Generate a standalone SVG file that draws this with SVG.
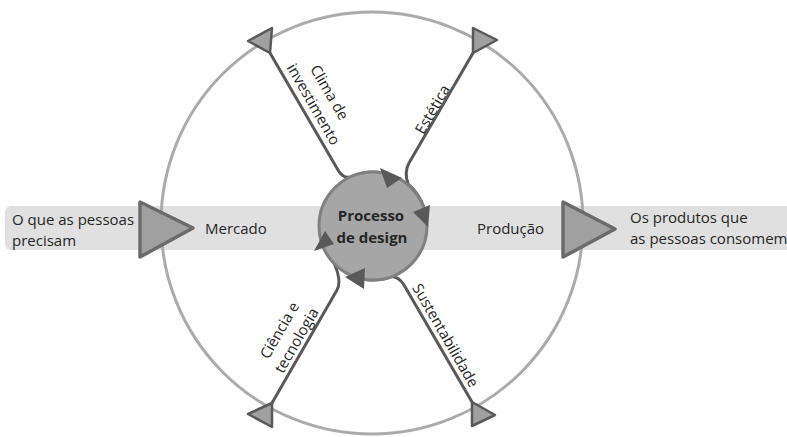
<svg xmlns="http://www.w3.org/2000/svg" width="787" height="437" viewBox="0 0 787 437">
  <defs>
    <style>
      .band { fill: #e0e0e0; }
      .ring { fill: none; stroke: #ababab; stroke-width: 3; }
      .flow { fill: #a0a0a0; stroke: #6b6b6b; stroke-width: 3.5; stroke-linejoin: round; }
      .spoke { fill: none; stroke: #595959; stroke-width: 3; stroke-linejoin: round; }
      .tip { fill: #a0a0a0; stroke: #595959; stroke-width: 2.5; stroke-linejoin: round; }
      .head { fill: #595959; }
      .hub { fill: #a6a6a6; stroke: #808080; stroke-width: 3; }
      .lbl { font-family: "Open Sans", "Liberation Sans", sans-serif; font-size: 15px; fill: #262626; }
      .hubtxt { font-family: "Open Sans", "Liberation Sans", sans-serif; font-size: 15px; font-weight: bold; fill: #262626; text-anchor: middle; }
      .mid { text-anchor: middle; }
    </style>
  </defs>

  <!-- horizontal flow band -->
  <rect id="band" class="band" x="5" y="206" width="800" height="44" rx="6"/>

  <!-- outer ring -->
  <circle id="ring" class="ring" cx="372" cy="223" r="211"/>

  <!-- input / output triangles on the band -->
  <g id="input-arrow">
    <polygon class="flow" points="140,202 140,257 193,228"/>
  </g>
  <g id="output-arrow">
    <polygon class="flow" points="563,202 563,257 615,229"/>
  </g>

  <!-- connectors: spokes running from the ring into the hub -->
  <g id="connectors">
    <path class="spoke" d="M270,53 L338,170 Q343,179 351,177 A54,54 0 0 1 382,172.7"/>
    <path class="spoke" d="M473,53 L409,163 Q404,172 408,184 A54,54 0 0 1 424,208"/>
    <path class="spoke" d="M472,402 L404,285 Q399,277 392,276.5 A54,54 0 0 1 365,279.4"/>
    <path class="spoke" d="M272,403 L337,290 Q342,281 334,263 A54,54 0 0 1 324.9,250.5"/>
    <!-- spoke end triangles on the ring -->
    <polygon class="tip" points="272,28 248,41 270,53"/>
    <polygon class="tip" points="473,28 497,40 473,53"/>
    <polygon class="tip" points="272,403 248,414 272,427"/>
    <polygon class="tip" points="472,402 495,415 472,426"/>
  </g>

  <!-- central hub -->
  <g id="hub">
    <circle class="hub" cx="373" cy="226" r="54"/>
    <polygon class="head" points="380,168 402,178 387,188"/>
    <polygon class="head" points="413,212 430,205 428,227"/>
    <polygon class="head" points="345,277 365,268 364,289"/>
    <polygon class="head" points="325,231 334,244 314,251"/>
    <text class="hubtxt" x="371" y="221">Processo</text>
    <text class="hubtxt" x="372" y="243">de design</text>
  </g>

  <!-- band labels -->
  <g id="needs">
    <text class="lbl" x="12" y="225">O que as pessoas</text>
    <text class="lbl" x="12" y="246">precisam</text>
  </g>
  <g id="mercado">
    <text class="lbl" x="205" y="234">Mercado</text>
  </g>
  <g id="producao">
    <text class="lbl" x="477" y="234">Produção</text>
  </g>
  <g id="products">
    <text class="lbl" x="630" y="223">Os produtos que</text>
    <text class="lbl" x="630" y="244">as pessoas consomem</text>
  </g>

  <!-- spoke labels -->
  <g id="clima">
    <text class="lbl mid" transform="translate(325,95) rotate(60)">Clima de</text>
    <text class="lbl mid" transform="translate(309,107) rotate(60)">investimento</text>
  </g>
  <g id="estetica">
    <text class="lbl mid" transform="translate(437,112) rotate(-60)">Estética</text>
  </g>
  <g id="sustentabilidade">
    <text class="lbl mid" transform="translate(441,338) rotate(60)">Sustentabilidade</text>
  </g>
  <g id="ciencia">
    <text class="lbl mid" transform="translate(284,333) rotate(-60)">Ciência e</text>
    <text class="lbl mid" transform="translate(301,343) rotate(-60)">tecnologia</text>
  </g>
</svg>
